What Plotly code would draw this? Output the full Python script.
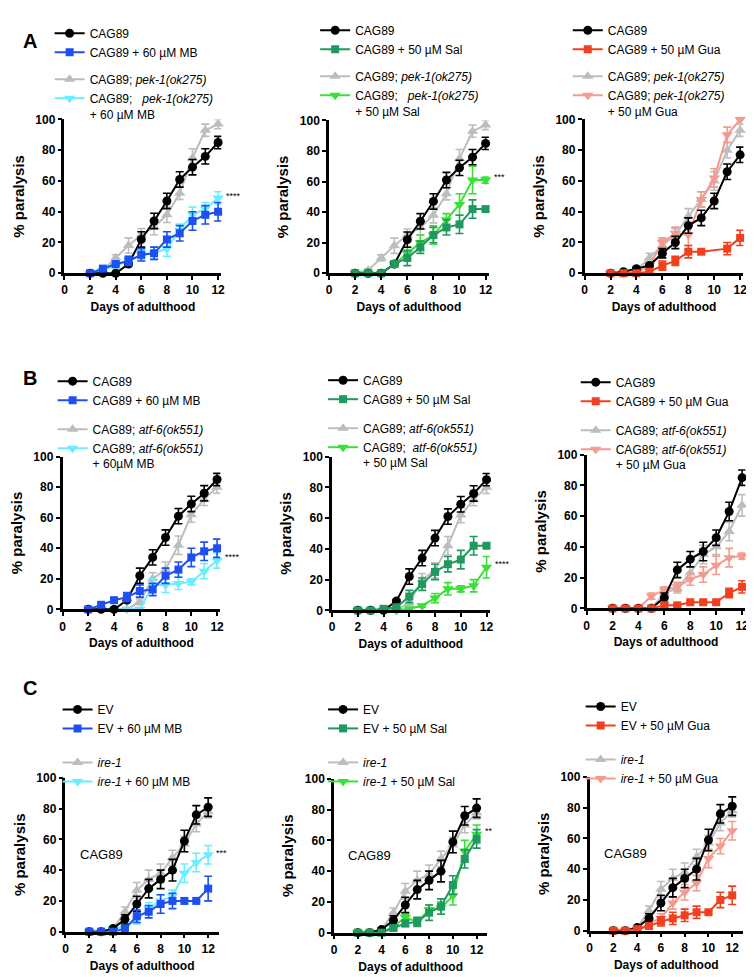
import plotly.graph_objects as go
from plotly.subplots import make_subplots

W, H = 754, 977

days = [2, 3, 4, 5, 6, 7, 8, 9, 10, 11, 12]

# --- row A: pek-1(ok275) ---
a_cag89 = [0, 0, 0, 6, 22, 34, 47, 61, 69, 76, 85]
a_cag89_err = [0, 0, 0, 1, 5, 5, 5, 5, 5, 5, 4]
a_pek1 = [0, 2, 10, 18, 25, 30, 38, 52, 75, 93, 97]
a_pek1_err = [0, 1, 2, 5, 4, 5, 5, 4, 6, 4, 3]

a1_mb = [0, 3, 6, 8, 12, 13, 22, 26, 34, 38, 40]
a1_mb_err = [0, 1, 1, 3, 4, 4, 5, 5, 6, 6, 6]
a1_pek1_mb = [0, 2, 5, 8, 12, 13, 16, 28, 38, 42, 49]
a1_pek1_mb_err = [0, 1, 2, 3, 3, 4, 5, 4, 5, 4, 4]

a2_sal = [0, 0, 0, 6, 10, 17, 25, 30, 32, 42, 42]
a2_sal_err = [0, 0, 0, 2, 5, 4, 5, 5, 6, 6, 1]
a2_pek1_sal = [0, 0, 0, 6, 13, 20, 25, 35, 45, 61, 61]
a2_pek1_sal_err = [0, 0, 0, 2, 4, 5, 6, 4, 7, 9, 2]

a3_cag89 = [0, 1, 3, 5, 13, 20, 31, 36, 47, 66, 77]
a3_cag89_err = [0, 0, 1, 1, 3, 4, 5, 5, 5, 5, 5]
a3_gua = [0, 0, 0, 1, 5, 8, 14, 14, None, 16, 23]
a3_gua_err = [0, 0, 0, 1, 3, 3, 4, 1, 0, 4, 5]
a3_pek1 = [0, 0, 2, 10, 18, 25, 37, 48, 60, 80, 93]
a3_pek1_err = [0, 0, 1, 3, 4, 4, 5, 5, 6, 5, 4]
a3_pek1_gua = [0, 0, 0, 5, 20, 26, 25, 48, 62, 90, 100]
a3_pek1_gua_err = [0, 0, 0, 2, 3, 4, 7, 5, 6, 5, 0]

# --- row B: atf-6(ok551) ---
b_atf6 = [0, 0, 0, 0, 5, 20, 26, 42, 62, 72, 80]
b_atf6_err = [0, 0, 0, 1, 2, 4, 5, 6, 5, 4, 4]
b1_atf6_mb = [0, 0, 0, 0, 0, 16, 16, 17, 18, 25, 32]
b1_atf6_mb_err = [0, 0, 0, 0, 0, 4, 5, 4, 2, 5, 5]
b2_sal = [0, 0, 1, 2, 9, 17, 25, 30, 33, 42, 42]
b2_sal_err = [0, 0, 0, 1, 4, 4, 5, 5, 6, 6, 1]
b2_atf6_sal = [0, 0, 0, 0, 1, 3, 8, 14, 14, 16, 28]
b2_atf6_sal_err = [0, 0, 0, 0, 0, 1, 3, 4, 2, 4, 7]

b3_cag89 = [0, 0, 0, 0, 7, 25, 32, 37, 46, 63, 85]
b3_cag89_err = [0, 0, 0, 0, 3, 5, 5, 6, 5, 6, 5]
b3_gua = [0, 0, 0, 0, 2, 2, 4, 4, 4, 10, 14]
b3_gua_err = [0, 0, 0, 0, 1, 1, 1, 1, 1, 3, 4]
b3_atf6 = [0, 0, 0, 0, 10, 13, 23, 35, 40, 50, 67]
b3_atf6_err = [0, 0, 0, 0, 2, 3, 4, 6, 5, 6, 7]
b3_atf6_gua = [0, 0, 0, 8, 12, 14, 19, 22, 28, 33, 34]
b3_atf6_gua_err = [0, 0, 0, 2, 2, 3, 4, 5, 6, 6, 2]

# --- row C: ire-1 RNAi ---
c_ev = [0, 0, 2, 8, 18, 28, 34, 40, 59, 76, 81]
c_ev_err = [0, 0, 1, 3, 5, 6, 6, 7, 7, 6, 6]
c_ire1 = [0, 0, 2, 13, 27, 34, 38, 48, 57, 70, 78]
c_ire1_err = [0, 0, 1, 3, 5, 6, 6, 5, 5, 5, 4]

c1_mb = [0, 0, 0, 2, 10, 13, 18, 20, 20, 20, 28]
c1_mb_err = [0, 0, 0, 1, 4, 4, 6, 5, 0, 0, 8]
c1_ire1_mb = [0, 0, 2, 3, 8, 15, 20, 23, 38, 45, 50]
c1_ire1_mb_err = [0, 0, 1, 1, 3, 4, 4, 4, 6, 6, 6]
c2_sal = [0, 0, 0, 3, 6, 7, 13, 17, 31, 48, 61]
c2_sal_err = [0, 0, 0, 1, 2, 3, 5, 5, 6, 6, 6]
c2_ire1_sal = [0, 0, 0, 4, 10, 7, 15, 16, 24, 53, 64]
c2_ire1_sal_err = [0, 0, 0, 1, 2, 2, 3, 4, 6, 7, 6]
c3_gua = [0, 0, 1, 3, 6, 8, 10, 12, 12, 20, 23]
c3_gua_err = [0, 0, 1, 1, 3, 4, 4, 4, 1, 5, 6]
c3_ire1_gua = [0, 0, 0, 5, 8, 18, 25, 31, 47, 55, 65]
c3_ire1_gua_err = [0, 0, 0, 2, 3, 4, 5, 5, 6, 5, 6]

BLACK, GRAY = "#000000", "#bdbdbd"
BLUE, CYAN = "#1f4ff2", "#6aeeff"
DKGREEN, GREEN = "#1f9960", "#38e038"
RED, SALMON = "#f2401f", "#f59a8f"

PEK = "CAG89; <i>pek-1(ok275)</i>"
ATF = "CAG89; <i>atf-6(ok551)</i>"
IRE = "<i>ire-1</i>"

# (wt, wt+drug, mutant, mutant+drug) -> (label, values, errors, colour)
panels = [
    [("CAG89", a_cag89, a_cag89_err, BLACK),
     ("CAG89 + 60 µM MB", a1_mb, a1_mb_err, BLUE),
     (PEK, a_pek1, a_pek1_err, GRAY),
     ("CAG89;   <i>pek-1(ok275)</i><br>+ 60 µM MB", a1_pek1_mb, a1_pek1_mb_err, CYAN)],
    [("CAG89", a_cag89, a_cag89_err, BLACK),
     ("CAG89 + 50 µM Sal", a2_sal, a2_sal_err, DKGREEN),
     (PEK, a_pek1, a_pek1_err, GRAY),
     ("CAG89;   <i>pek-1(ok275)</i><br>+ 50 µM Sal", a2_pek1_sal, a2_pek1_sal_err, GREEN)],
    [("CAG89", a3_cag89, a3_cag89_err, BLACK),
     ("CAG89 + 50 µM Gua", a3_gua, a3_gua_err, RED),
     (PEK, a3_pek1, a3_pek1_err, GRAY),
     ("CAG89; <i>pek-1(ok275)</i><br>+ 50 µM Gua", a3_pek1_gua, a3_pek1_gua_err, SALMON)],
    [("CAG89", a_cag89, a_cag89_err, BLACK),
     ("CAG89 + 60 µM MB", a1_mb, a1_mb_err, BLUE),
     (ATF, b_atf6, b_atf6_err, GRAY),
     ("CAG89; <i>atf-6(ok551)</i><br>+ 60µM MB", b1_atf6_mb, b1_atf6_mb_err, CYAN)],
    [("CAG89", a_cag89, a_cag89_err, BLACK),
     ("CAG89 + 50 µM Sal", b2_sal, b2_sal_err, DKGREEN),
     (ATF, b_atf6, b_atf6_err, GRAY),
     ("CAG89;  <i>atf-6(ok551)</i><br>+ 50 µM Sal", b2_atf6_sal, b2_atf6_sal_err, GREEN)],
    [("CAG89", b3_cag89, b3_cag89_err, BLACK),
     ("CAG89 + 50 µM Gua", b3_gua, b3_gua_err, RED),
     (ATF, b3_atf6, b3_atf6_err, GRAY),
     ("CAG89; <i>atf-6(ok551)</i><br>+ 50 µM Gua", b3_atf6_gua, b3_atf6_gua_err, SALMON)],
    [("EV", c_ev, c_ev_err, BLACK),
     ("EV + 60 µM MB", c1_mb, c1_mb_err, BLUE),
     (IRE, c_ire1, c_ire1_err, GRAY),
     (IRE + " + 60 µM MB", c1_ire1_mb, c1_ire1_mb_err, CYAN)],
    [("EV", c_ev, c_ev_err, BLACK),
     ("EV + 50 µM Sal", c2_sal, c2_sal_err, DKGREEN),
     (IRE, c_ire1, c_ire1_err, GRAY),
     (IRE + " + 50 µM Sal", c2_ire1_sal, c2_ire1_sal_err, GREEN)],
    [("EV", c_ev, c_ev_err, BLACK),
     ("EV + 50 µM Gua", c3_gua, c3_gua_err, RED),
     (IRE, c_ire1, c_ire1_err, GRAY),
     (IRE + " + 50 µM Gua", c3_ire1_gua, c3_ire1_gua_err, SALMON)],
]

# significance marks next to the day-12 point: (panel index, y, text)
stars = [(0, 50, "****"), (1, 63, "***"), (3, 34, "****"),
         (4, 30, "****"), (6, 51, "***"), (7, 66, "**")]

# layout in pixels: x of day 0, px per day, x max, y px of 0, y px of 100, legend x, legend y, group gap
geom = [
    (54, 12.92, 12.25, 262, 106, 39, 4, 8),
    (321, 13.17, 12.25, 262, 107, 307, 1, 8),
    (579, 13.08, 12.25, 262, 106, 562, 1, 8),
    (52, 13.0, 12.25, 603, 448, 42, 357, 10),
    (324, 13.0, 12.25, 604, 448, 315, 356, 10),
    (581, 13.08, 12.25, 602, 446, 570, 358, 10),
    (55, 12.0, 12.9, 930, 774, 47, 690, 15),
    (326, 12.0, 12.9, 931, 775, 315, 690, 15),
    (584, 12.0, 12.9, 929, 773, 575, 687, 15),
]

FONT = "Liberation Sans, Arial, sans-serif"
symbols = ["circle", "square", "triangle-up", "triangle-down"]
sizes = [9, 8, 10, 10]
ranks = [1, 2, 3, 4]
draw_order = [2, 3, 0, 1]

fig = make_subplots(rows=3, cols=3)

for i, series in enumerate(panels):
    r, c = i // 3 + 1, i % 3 + 1
    leg = "legend" if i == 0 else f"legend{i + 1}"
    for k in draw_order:
        name, vals, err, col = series[k]
        fig.add_trace(go.Scatter(
            x=days, y=vals, name=name, mode="lines+markers",
            line=dict(color=col, width=2),
            marker=dict(symbol=symbols[k], size=sizes[k], color=col),
            error_y=dict(type="data", array=err, color=col, thickness=1.6, width=4),
            connectgaps=True, cliponaxis=False,
            legend=leg, legendrank=ranks[k],
            legendgroup=f"p{i}_{'wt' if k < 2 else 'mut'}",
        ), row=r, col=c)

    x0, ppd, xmax, y0, y100, lx, ly, gap = geom[i]
    xend = x0 + ppd * xmax
    sfx = "" if i == 0 else str(i + 1)
    fig.layout[f"xaxis{sfx}"].update(
        domain=[x0 / W, xend / W], range=[0, xmax],
        tickvals=list(range(0, 13, 2)),
        showline=True, linecolor="black", linewidth=2.5,
        ticks="outside", ticklen=4, tickwidth=2, tickcolor="black",
        tickfont=dict(family=FONT, size=12, color="black", weight="bold"),
        showgrid=False, zeroline=False,
        title=dict(text="Days of adulthood", standoff=7,
                   font=dict(family=FONT, size=12, color="black", weight="bold")),
    )
    fig.layout[f"yaxis{sfx}"].update(
        domain=[1 - y0 / H, 1 - y100 / H], range=[0, 100], dtick=20,
        showline=True, linecolor="black", linewidth=2.5,
        ticks="outside", ticklen=4, tickwidth=2, tickcolor="black",
        tickfont=dict(family=FONT, size=12, color="black", weight="bold"),
        showgrid=False, zeroline=False,
        title=dict(text="% paralysis", standoff=8,
                   font=dict(family=FONT, size=15, color="black", weight="bold")),
    )
    fig.layout[leg] = dict(
        x=lx / W, y=1 - ly / H, xanchor="left", yanchor="top",
        bgcolor="rgba(0,0,0,0)", traceorder="grouped", tracegroupgap=gap,
        valign="top", itemwidth=30,
        font=dict(family=FONT, size=12, color="black"),
    )
    if i >= 6:
        fig.add_annotation(x=3, y=50, xref=f"x{sfx}", yref=f"y{sfx}", text="CAG89",
                           showarrow=False, font=dict(family=FONT, size=13, color="black"))

for i, sy, txt in stars:
    sfx = "" if i == 0 else str(i + 1)
    fig.add_annotation(x=days[-1], y=sy, xref=f"x{sfx}", yref=f"y{sfx}", text=txt,
                       xanchor="left", xshift=6, showarrow=False,
                       font=dict(family=FONT, size=9, color="black"))

for letter, py in [("A", 13), ("B", 368), ("C", 696)]:
    fig.add_annotation(x=10 / W, y=1 - py / H, xref="paper", yref="paper", text=f"<b>{letter}</b>",
                       showarrow=False, font=dict(family=FONT, size=20, color="black"))

fig.update_layout(
    width=W, height=H, margin=dict(l=0, r=0, t=0, b=0),
    plot_bgcolor="white", paper_bgcolor="white",
    font=dict(family=FONT, color="black"),
)

fig.write_html("out.html")
